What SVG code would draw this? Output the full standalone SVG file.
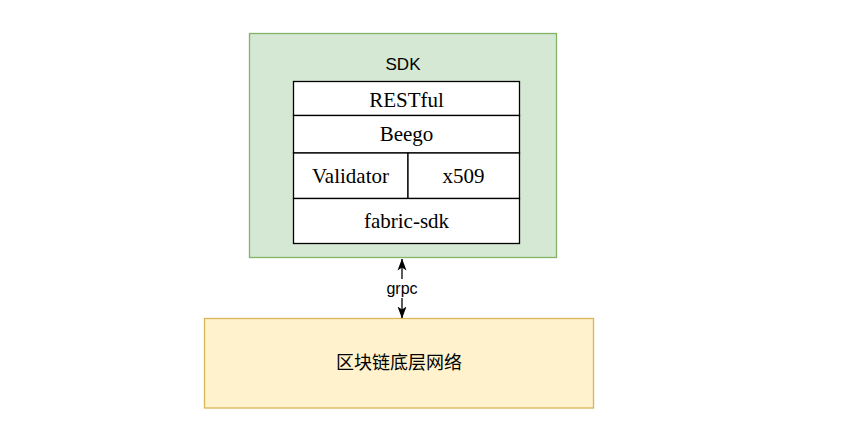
<svg xmlns="http://www.w3.org/2000/svg" width="846" height="439" viewBox="0 0 846 439">
<style>
.cell{fill:#ffffff;stroke:#000000;stroke-width:1.3}
.t{font-family:"Liberation Serif",serif;font-size:21px;fill:#000;text-anchor:middle}
.s{font-family:"Liberation Sans",Arial,sans-serif;fill:#000;text-anchor:middle}
</style>
<defs>
<marker id="ah" viewBox="0 0 12 10" refX="11.5" refY="5" markerWidth="12" markerHeight="10" markerUnits="userSpaceOnUse" orient="auto-start-reverse">
<path d="M0,0.5 L12,5 L0,9.5 L3,5 Z" fill="#000"/>
</marker>
</defs>
<rect width="846" height="439" fill="#ffffff"/>
<g id="sdk">
<rect x="249.5" y="33.5" width="307" height="224" fill="#d5e8d4" stroke="#82b366" stroke-width="1.3"/>
<text class="s" x="403" y="70" font-size="17">SDK</text>
</g>
<g id="restful">
<rect class="cell" x="293.5" y="81.5" width="226" height="34"/>
<text class="t" x="406.5" y="106.5">RESTful</text>
</g>
<g id="beego">
<rect class="cell" x="293.5" y="115.5" width="226" height="37.5"/>
<text class="t" x="406.5" y="141">Beego</text>
</g>
<g id="validator">
<rect class="cell" x="293.5" y="153" width="114.5" height="45.5"/>
<text class="t" x="350.5" y="182.5">Validator</text>
</g>
<g id="x509">
<rect class="cell" x="408" y="153" width="111.5" height="45.5"/>
<text class="t" x="463.5" y="182.5">x509</text>
</g>
<g id="fabric-sdk">
<rect class="cell" x="293.5" y="198.5" width="226" height="45"/>
<text class="t" x="406.5" y="228">fabric-sdk</text>
</g>
<g id="network">
<rect x="204.5" y="318.5" width="389" height="89.5" fill="#fff2cc" stroke="#d6b656" stroke-width="1.3"/>
<text x="399" y="363" font-size="18" dominant-baseline="central" text-anchor="middle" style="font-family:'Liberation Sans','Noto Sans CJK SC',sans-serif">区块链底层网络</text>
</g>
<g id="connectors">
<line x1="402" y1="259" x2="402" y2="318" stroke="#000" stroke-width="1.3" marker-start="url(#ah)" marker-end="url(#ah)"/>
<rect x="384" y="279" width="36" height="19" fill="#ffffff"/>
<text class="s" x="402" y="294" font-size="16">grpc</text>
</g>
</svg>
